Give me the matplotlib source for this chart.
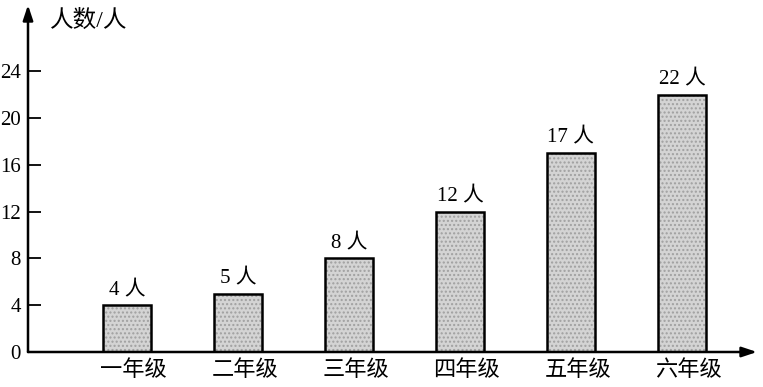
import matplotlib
matplotlib.use("Agg")
import matplotlib.pyplot as plt
import numpy as np

categories = ["一年级", "二年级", "三年级", "四年级", "五年级", "六年级"]
values = [4, 5, 8, 12, 17, 22]
yticks = [0, 4, 8, 12, 16, 20, 24]
ylabel = "人数/人"
unit = "人"

fam = ["Liberation Serif", "Noto Sans CJK SC", "DejaVu Sans"]
plt.rcParams["font.family"] = fam

W, H = 763, 387
fig = plt.figure(figsize=(W / 100, H / 100), dpi=100)
left, bottom, right, top = 28, 35, 757, 382
ax = fig.add_axes([left / W, bottom / H, (right - left) / W, (top - bottom) / H])

x = np.arange(len(categories))
ax.set_xlim(-0.892, 5.676)
ax.set_ylim(0, 29.66)

ax.bar(x, values, width=0.43, color="#d4d4d4", edgecolor="#a0a0a0",
       hatch="....", linewidth=0, zorder=2)
ax.bar(x, values, width=0.43, fill=False, edgecolor="black", linewidth=1.8, zorder=3)

for xi, v in zip(x, values):
    ax.text(xi, v + 0.45, f"{v} {unit}", ha="center", va="bottom", fontsize=15, family=fam)

for s in ["top", "right", "left", "bottom"]:
    ax.spines[s].set_visible(False)

ax.annotate("", xy=(1.0, 0), xycoords="axes fraction", xytext=(0, 0),
            arrowprops=dict(arrowstyle="-|>,head_length=0.9,head_width=0.3", color="black", lw=1.8,
                            shrinkA=0, shrinkB=0))
ax.annotate("", xy=(0, 1.0), xycoords="axes fraction", xytext=(0, 0),
            arrowprops=dict(arrowstyle="-|>,head_length=0.9,head_width=0.3", color="black", lw=1.8,
                            shrinkA=0, shrinkB=0))

ax.set_yticks(yticks)
ax.set_yticklabels([str(t) for t in yticks], fontsize=15)
ax.tick_params(axis="y", direction="in", length=9, width=1.3, pad=5)
ax.set_xticks(x + 0.06)
ax.set_xticklabels(categories, fontsize=16)
ax.tick_params(axis="x", length=0, pad=6)

ax.text(0.03, 0.955, ylabel, transform=ax.transAxes, ha="left", va="center", fontsize=17, family=fam)

fig.savefig("out.png", dpi=100)
